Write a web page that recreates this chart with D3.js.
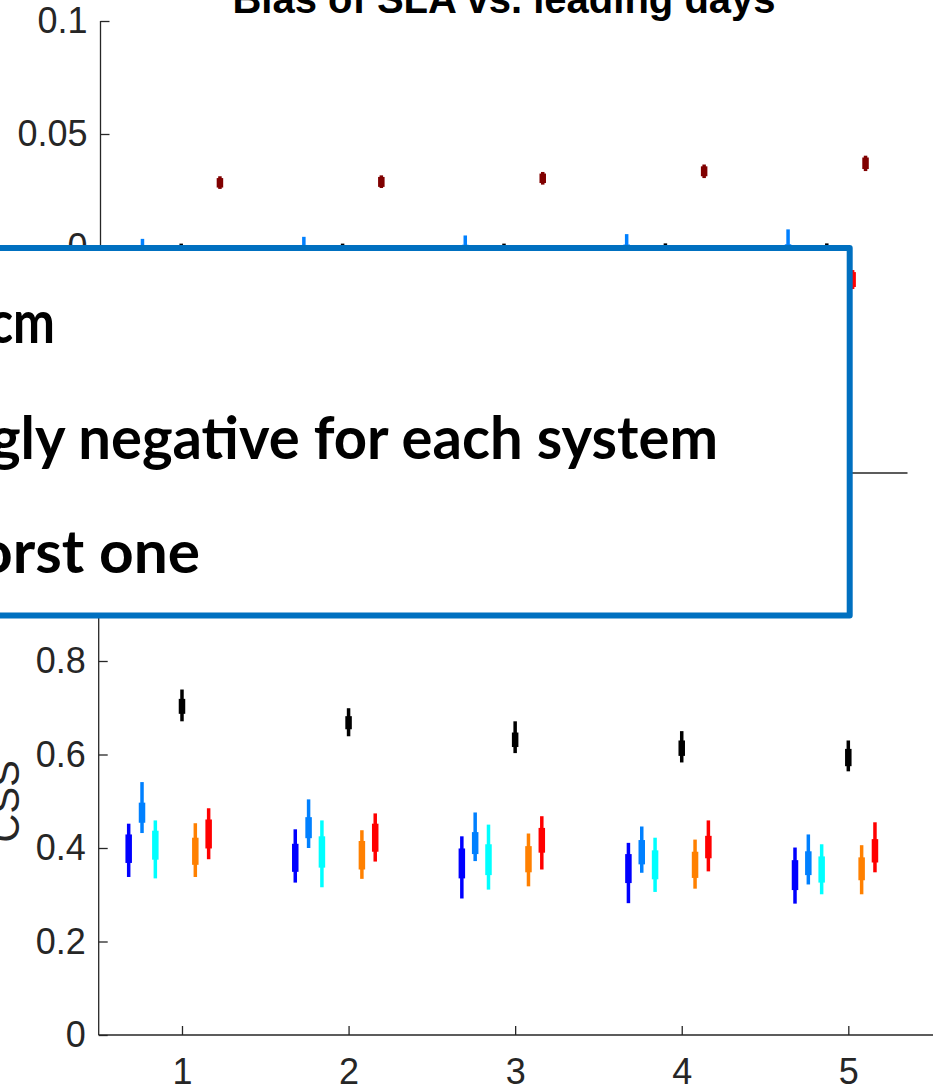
<!DOCTYPE html>
<html>
<head>
<meta charset="utf-8">
<script src="https://cdn.jsdelivr.net/npm/d3@7/dist/d3.min.js"></script>
<style>
  html, body { margin: 0; padding: 0; background: #fff; overflow: hidden; }
  svg { display: block; }
</style>
</head>
<body>
<svg id="fig" width="933" height="1088"></svg>
<script>
// Leading days on the x axis
const days = [1, 2, 3, 4, 5];
const xTickLabels = ["1", "2", "3", "4", "5"];
const biasTicks = [0, 0.05, 0.1];
const biasTickLabels = ["0", "0.05", "0.1"];
const cssTicks = [0, 0.2, 0.4, 0.6, 0.8];
const cssTickLabels = ["0", "0.2", "0.4", "0.6", "0.8"];

// Each entry: [lower whisker, 25th pct, 75th pct, upper whisker] per leading day
// Bias of SLA (m)
const biasBlue    = [[-0.034,-0.030,-0.022,-0.018],[-0.035,-0.031,-0.023,-0.019],[-0.036,-0.032,-0.024,-0.020],[-0.037,-0.033,-0.025,-0.021],[-0.038,-0.034,-0.026,-0.022]];
const biasDodger  = [[-0.004,-0.002,0.0008,0.0036],[-0.004,-0.002,0.0009,0.0045],[-0.004,-0.002,0.0010,0.0051],[-0.004,-0.0015,0.0011,0.0057],[-0.0035,-0.001,0.0012,0.0078]];
const biasCyan    = [[-0.030,-0.026,-0.019,-0.015],[-0.031,-0.027,-0.020,-0.016],[-0.032,-0.028,-0.021,-0.017],[-0.033,-0.029,-0.022,-0.018],[-0.034,-0.030,-0.023,-0.019]];
const biasBlack   = [[-0.003,-0.001,0.0006,0.0015],[-0.003,-0.001,0.0006,0.0015],[-0.003,-0.001,0.0006,0.0015],[-0.003,-0.001,0.0007,0.0016],[-0.003,-0.001,0.0007,0.0016]];
const biasOrange  = [[-0.046,-0.042,-0.035,-0.031],[-0.047,-0.043,-0.036,-0.032],[-0.048,-0.044,-0.037,-0.033],[-0.049,-0.045,-0.038,-0.034],[-0.050,-0.046,-0.039,-0.035]];
const biasRed     = [[-0.0170,-0.0160,-0.0100,-0.0090],[-0.0172,-0.0163,-0.0102,-0.0093],[-0.0176,-0.0168,-0.0105,-0.0096],[-0.0180,-0.0172,-0.0108,-0.0099],[-0.0186,-0.0177,-0.0111,-0.0102]];
const biasDarkRed = [[0.0257,0.0263,0.0305,0.0313],[0.0261,0.0266,0.0310,0.0317],[0.0276,0.0283,0.0325,0.0332],[0.0305,0.0313,0.0357,0.0365],[0.0336,0.0345,0.0396,0.0404]];

// CSS
const cssBlue   = [[0.338,0.368,0.429,0.452],[0.326,0.349,0.409,0.440],[0.292,0.335,0.399,0.425],[0.282,0.325,0.387,0.411],[0.281,0.310,0.374,0.401]];
const cssDodger = [[0.432,0.454,0.497,0.541],[0.400,0.421,0.466,0.504],[0.372,0.387,0.434,0.476],[0.347,0.365,0.417,0.446],[0.322,0.342,0.393,0.429]];
const cssCyan   = [[0.335,0.375,0.437,0.459],[0.316,0.358,0.425,0.459],[0.311,0.342,0.408,0.450],[0.306,0.333,0.395,0.422],[0.301,0.326,0.382,0.408]];
const cssBlack  = [[0.671,0.687,0.719,0.739],[0.639,0.654,0.682,0.699],[0.603,0.616,0.647,0.671],[0.583,0.597,0.630,0.650],[0.564,0.575,0.612,0.630]];
const cssOrange = [[0.338,0.364,0.422,0.453],[0.334,0.354,0.415,0.438],[0.318,0.348,0.404,0.431],[0.313,0.336,0.392,0.418],[0.301,0.331,0.380,0.406]];
const cssRed    = [[0.376,0.399,0.461,0.485],[0.371,0.392,0.452,0.474],[0.354,0.390,0.443,0.468],[0.350,0.378,0.426,0.459],[0.348,0.369,0.419,0.455]];

// Text shown in the annotation box
const noteLines = ["cm", "gly negative for each system", "orst one"];

// ---- series styling (colour and horizontal shift within each day) ----
const colors = {
  blue: "#0000ff", dodger: "#0080ff", cyan: "#00ffff", black: "#000000",
  orange: "#ff8000", red: "#ff0000", darkred: "#800000"
};
const shift = { blue: -0.32, dodger: -0.24, cyan: -0.16, black: 0, orange: 0.08, red: 0.16, darkred: 0.24 };

const biasSeries = [
  { key: "blue", data: biasBlue }, { key: "dodger", data: biasDodger },
  { key: "cyan", data: biasCyan }, { key: "black", data: biasBlack },
  { key: "orange", data: biasOrange }, { key: "red", data: biasRed },
  { key: "darkred", data: biasDarkRed }
];
const cssSeries = [
  { key: "blue", data: cssBlue }, { key: "dodger", data: cssDodger },
  { key: "cyan", data: cssCyan }, { key: "black", data: cssBlack },
  { key: "orange", data: cssOrange }, { key: "red", data: cssRed }
];

const svg = d3.select("#fig");
const axisColor = "#262626";
const tickFont = "'Liberation Sans', Arial, Helvetica, sans-serif";

function drawPanel(opts) {
  const { x, y, series, yTicks, yLabels, xEnd, xLabels } = opts;
  const g = svg.append("g");
  const x0 = x.range()[0];
  const yBottom = y.range()[0];
  const yTop = y.range()[1];

  // compact box plots: thin whisker plus thick inter-quartile box
  series.forEach(s => {
    const sg = g.append("g").attr("fill", colors[s.key]);
    sg.selectAll("rect.whisker").data(s.data).join("rect")
      .attr("class", "whisker")
      .attr("x", (d, i) => x(days[i] + shift[s.key]) - 1.75)
      .attr("width", 3.5)
      .attr("y", d => y(d[3]))
      .attr("height", d => y(d[0]) - y(d[3]));
    sg.selectAll("rect.box").data(s.data).join("rect")
      .attr("class", "box")
      .attr("x", (d, i) => x(days[i] + shift[s.key]) - 3.25)
      .attr("width", 6.5)
      .attr("y", d => y(d[2]))
      .attr("height", d => y(d[1]) - y(d[2]));
  });

  // y axis
  const yAxis = d3.axisLeft(y).tickValues(yTicks)
    .tickFormat((d, i) => yLabels[i]).tickSize(-9).tickPadding(13).tickSizeOuter(0);
  const ya = g.append("g").attr("transform", `translate(${x0},0)`).call(yAxis);
  ya.select(".domain").remove();
  ya.append("line").attr("x1", 0).attr("x2", 0).attr("y1", yBottom).attr("y2", yTop)
    .attr("stroke", axisColor).attr("stroke-width", 1.3);
  ya.selectAll(".tick line").attr("stroke", axisColor).attr("stroke-width", 1.3);
  ya.selectAll(".tick text").attr("fill", axisColor)
    .style("font-family", tickFont).style("font-size", "36px");

  // x axis
  const xAxis = d3.axisBottom(x).tickValues(days)
    .tickFormat((d, i) => xLabels ? xLabels[i] : "").tickSize(-9).tickPadding(0).tickSizeOuter(0);
  const xa = g.append("g").attr("transform", `translate(0,${yBottom})`).call(xAxis);
  xa.select(".domain").remove();
  xa.append("line").attr("x1", x0).attr("x2", xEnd).attr("y1", 0).attr("y2", 0)
    .attr("stroke", axisColor).attr("stroke-width", 1.3);
  xa.selectAll(".tick line").attr("stroke", axisColor).attr("stroke-width", 1.3);
  if (xLabels) {
    xa.selectAll(".tick text").attr("fill", axisColor)
      .attr("y", 49).attr("dy", null)
      .style("font-family", tickFont).style("font-size", "36px");
  } else {
    xa.selectAll(".tick text").remove();
  }
  return g;
}

// ---- top panel: bias ----
const xTop = d3.scaleLinear().domain([0.5, 5.5]).range([100.5, 907.5]);
const yTop = d3.scaleLinear().domain([-0.1, 0.1]).range([473, 21]);
drawPanel({ x: xTop, y: yTop, series: biasSeries, yTicks: biasTicks, yLabels: biasTickLabels, xEnd: 907.5, xLabels: null });

svg.append("text")
  .attr("x", 504).attr("y", 13)
  .attr("text-anchor", "middle")
  .style("font-family", tickFont).style("font-weight", "bold").style("font-size", "40px")
  .attr("fill", "#000")
  .text("Bias of SLA vs. leading days");

// ---- bottom panel: CSS ----
const xBot = d3.scaleLinear().domain([0.5, 5.5]).range([98.7, 931.6]);
const yBot = d3.scaleLinear().domain([0, 1]).range([1035, 567.5]);
drawPanel({ x: xBot, y: yBot, series: cssSeries, yTicks: cssTicks, yLabels: cssTickLabels, xEnd: 933, xLabels: xTickLabels });

svg.append("text")
  .attr("transform", `translate(19,${(yBot(0) + yBot(1)) / 2}) rotate(-90)`)
  .attr("text-anchor", "middle")
  .style("font-family", tickFont).style("font-size", "40px")
  .attr("fill", axisColor)
  .text("CSS");

// ---- annotation box laid over the figure ----
const note = svg.append("g");
note.append("rect")
  .attr("x", -30).attr("y", 248)
  .attr("width", 849.7 + 30).attr("height", 615.5 - 248)
  .attr("fill", "#fff")
  .attr("stroke", "#0070c0").attr("stroke-width", 6)
  .attr("stroke-linejoin", "round");

const noteLayout = [
  { end: 55, base: 343, len: 66 },
  { end: 718, base: 459, len: 728 },
  { end: 200, base: 573, len: 222 }
];
note.selectAll("text").data(noteLines).join("text")
  .attr("x", (d, i) => noteLayout[i].end - noteLayout[i].len)
  .attr("y", (d, i) => noteLayout[i].base)
  .attr("textLength", (d, i) => noteLayout[i].len)
  .attr("lengthAdjust", "spacingAndGlyphs")
  .style("font-family", "Lato, 'Open Sans', sans-serif")
  .style("font-weight", "bold")
  .style("font-size", "59px")
  .attr("fill", "#000")
  .text(d => d);
</script>
</body>
</html>
